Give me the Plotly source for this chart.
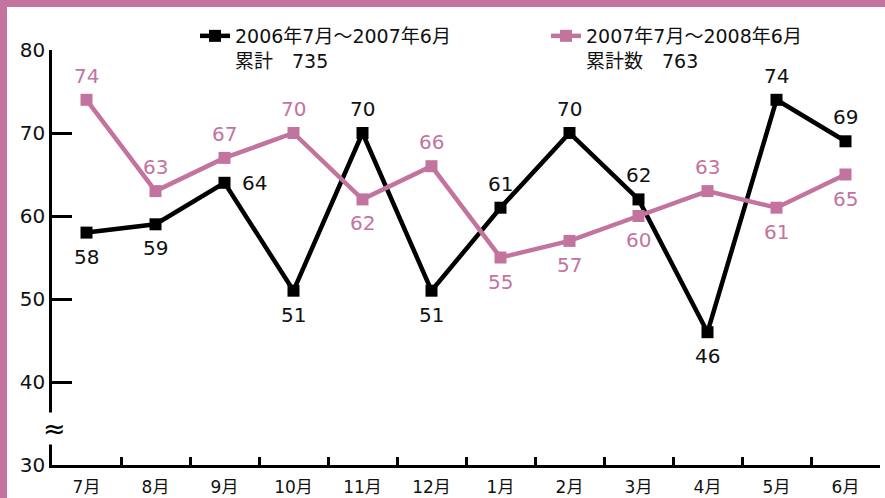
import plotly.graph_objects as go

months = ["7月", "8月", "9月", "10月", "11月", "12月", "1月", "2月", "3月", "4月", "5月", "6月"]
series_a = [58, 59, 64, 51, 70, 51, 61, 70, 62, 46, 74, 69]   # 2006年7月～2007年6月
series_b = [74, 63, 67, 70, 62, 66, 55, 57, 60, 63, 61, 65]   # 2007年7月～2008年6月
pos_a = ["b", "b", "r", "b", "t", "b", "t", "t", "t", "b", "t", "t"]
pos_b = ["t", "t", "t", "t", "b", "t", "b", "b", "b", "t", "b", "b"]
name_a = "2006年7月～2007年6月<br>累計　735"
name_b = "2007年7月～2008年6月<br>累計数　763"
y_ticks = [30, 40, 50, 60, 70, 80]

BLACK = "#000000"
PINK = "#C2749F"
FONT = "DejaVu Sans, Noto Sans CJK JP"
W, H = 885, 498
ML, MR, MT, MB = 52, 5, 50, 33
PW, PH = W - ML - MR, H - MT - MB


def px_x(p):
    return (p - ML) / PW


def px_y(p):
    return (H - MB - p) / PH


fig = go.Figure()
fig.add_trace(go.Scatter(x=months, y=series_a, name=name_a, mode="lines+markers",
                         line=dict(color=BLACK, width=4.5), legend="legend",
                         marker=dict(symbol="square", size=12, color=BLACK)))
fig.add_trace(go.Scatter(x=months, y=series_b, name=name_b, mode="lines+markers",
                         line=dict(color=PINK, width=4.5), legend="legend2",
                         marker=dict(symbol="square", size=12, color=PINK)))

ann = []
for vals, poss, col in ((series_a, pos_a, "#111111"), (series_b, pos_b, PINK)):
    for m, v, p in zip(months, vals, poss):
        xs, ys = 0, 0
        if p == "t":
            ys = 24
        elif p == "b":
            ys = -24
        else:
            xs = 30
        ann.append(dict(x=m, y=v, text=str(v), showarrow=False, xshift=xs, yshift=ys,
                        font=dict(family=FONT, size=20, color=col)))

# axis break mark
ann.append(dict(x=0, xref="paper", y=34.4, text="≈", showarrow=False, bgcolor="white",
                xanchor="center", yanchor="middle", xshift=2,
                font=dict(family=FONT, size=27, color=BLACK), borderpad=0))

shapes = [
    dict(type="rect", xref="paper", yref="paper", x0=px_x(0), x1=px_x(W), y0=px_y(7), y1=px_y(0),
         fillcolor=PINK, line=dict(width=0), layer="below"),
    dict(type="rect", xref="paper", yref="paper", x0=px_x(0), x1=px_x(7), y0=px_y(H), y1=px_y(0),
         fillcolor=PINK, line=dict(width=0), layer="below"),
]

leg_common = dict(orientation="h", xanchor="left", yanchor="top", valign="top",
                  font=dict(family=FONT, size=19, color="#111111"),
                  bgcolor="rgba(0,0,0,0)", itemwidth=30)

fig.update_layout(
    width=W, height=H,
    margin=dict(l=ML, r=MR, t=MT, b=MB, autoexpand=False),
    paper_bgcolor="white", plot_bgcolor="white",
    font=dict(family=FONT, size=18, color="#111111"),
    showlegend=True,
    legend=dict(x=px_x(195), y=px_y(17), **leg_common),
    legend2=dict(x=px_x(546), y=px_y(17), **leg_common),
    annotations=ann,
    shapes=shapes,
    xaxis=dict(range=[-0.5, 11.5], showgrid=False, zeroline=False, showline=True,
               linecolor=BLACK, linewidth=2.5, ticks="inside", ticklen=8, tickwidth=2.5,
               tickcolor=BLACK, tickson="boundaries", tickfont=dict(family=FONT, size=17),
               ticklabelstandoff=5, automargin=False, fixedrange=True),
    yaxis=dict(range=[30, 80], showgrid=False, zeroline=False, showline=True,
               linecolor=BLACK, linewidth=2.5, ticks="inside", ticklen=20, tickwidth=2.5,
               tickcolor=BLACK, tickvals=y_ticks, ticktext=[str(t) for t in y_ticks],
               tickfont=dict(family=FONT, size=20), automargin=False, fixedrange=True),
)
fig.write_html("out.html", config={"displayModeBar": False},
               post_script="document.body.style.margin='0px';")
